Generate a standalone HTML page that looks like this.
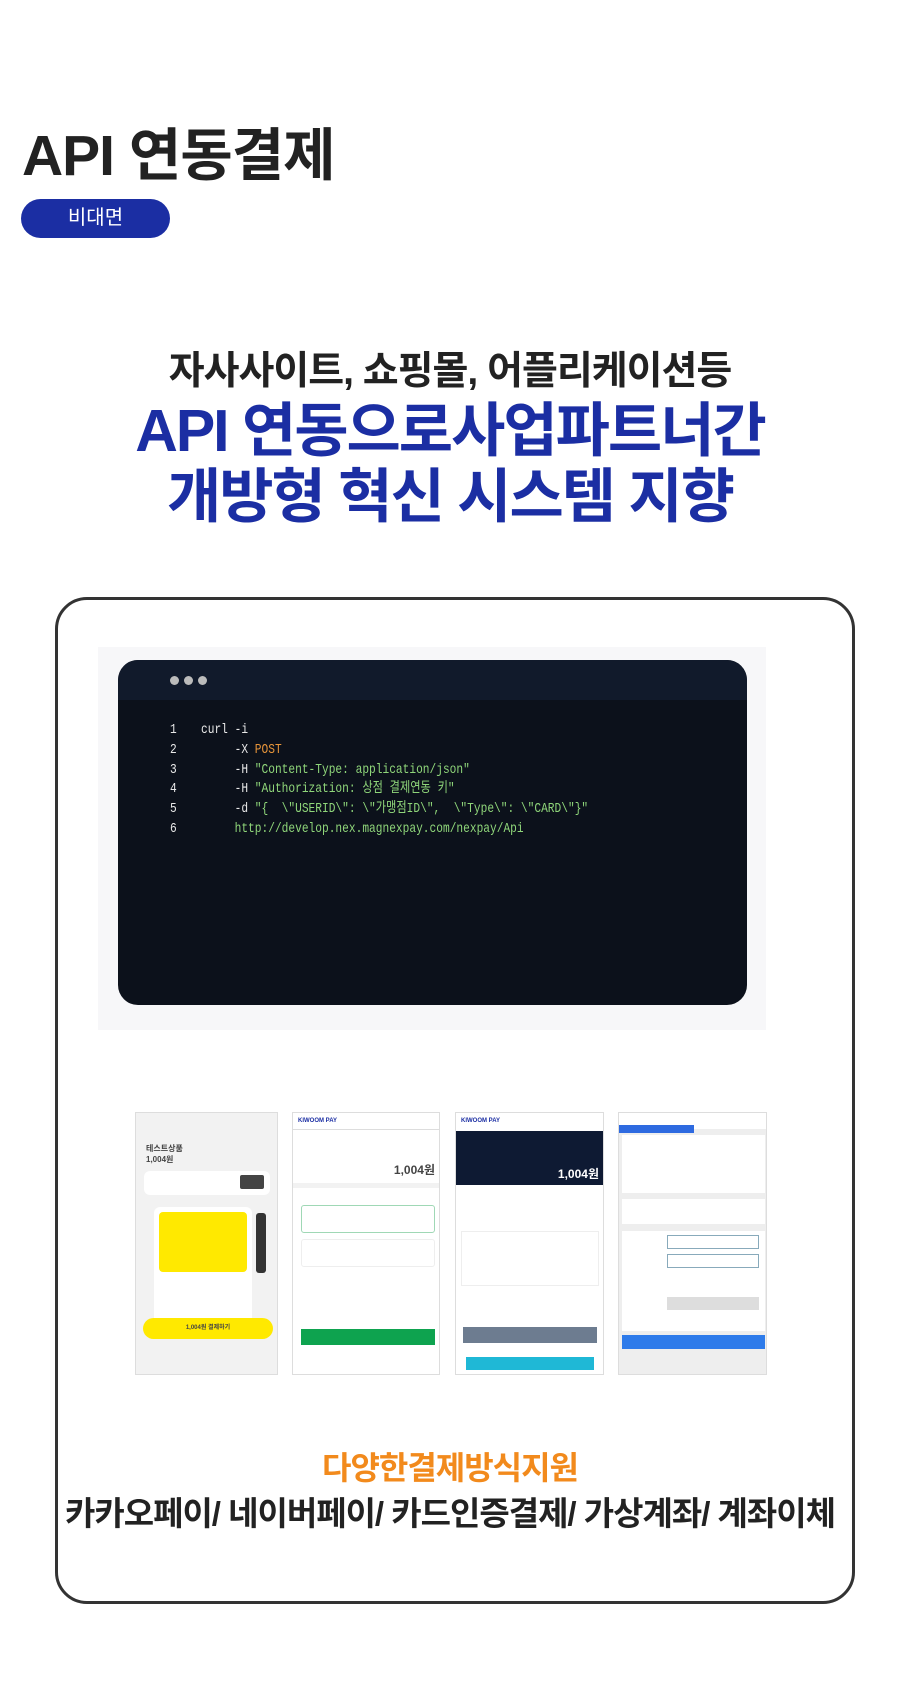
<!DOCTYPE html>
<html><head><meta charset="utf-8"><style>
*{margin:0;padding:0;box-sizing:border-box}
body{width:900px;height:1700px;background:#fff;position:relative;overflow:hidden;font-family:"Liberation Sans","Noto Sans CJK KR",sans-serif}
.a{position:absolute}
.c{left:0;width:900px;text-align:center}
.code{font-family:"Liberation Mono","Noto Sans CJK KR",monospace;font-size:14px;white-space:pre;color:#e8e8e8;transform:scaleX(0.8);transform-origin:0 0}
.g{color:#8fd67a}.o{color:#e8953a}
.ph{position:absolute;background:#fff;border:1px solid #ddd;overflow:hidden;font-size:6px;color:#444}
.ph .a{font-size:6px}
</style></head><body>
<div class="a" style="left:22px;top:110px;font-size:57px;font-weight:700;color:#222;letter-spacing:-1px">API 연동결제</div>
<div class="a" style="left:21px;top:199px;width:149px;height:39px;border-radius:20px;background:#1b2ea3;color:#fff;font-size:20px;text-align:center;line-height:39px">비대면</div>

<div class="a c" style="top:340px;font-size:39px;font-weight:700;color:#222;letter-spacing:-1px">자사사이트, 쇼핑몰, 어플리케이션등</div>
<div class="a c" style="top:398px;font-size:59px;font-weight:700;color:#1b2ea3;letter-spacing:-2px;line-height:66px">API 연동으로사업파트너간<br>개방형 혁신 시스템 지향</div>

<div class="a" style="left:55px;top:597px;width:800px;height:1007px;border:3px solid #333;border-radius:32px"></div>

<div class="a" style="left:98px;top:647px;width:668px;height:383px;background:#f7f7f9"></div>
<div class="a" style="left:118px;top:660px;width:629px;height:345px;background:#0c111b;border-radius:20px;overflow:hidden">
 <div style="height:40px;background:#111a2b"></div>
</div>
<div class="a" style="left:170px;top:676px;width:9px;height:9px;border-radius:50%;background:#bbb"></div>
<div class="a" style="left:184px;top:676px;width:9px;height:9px;border-radius:50%;background:#bbb"></div>
<div class="a" style="left:198px;top:676px;width:9px;height:9px;border-radius:50%;background:#bbb"></div>
<div class="a code" style="left:170px;top:721px;line-height:19.8px">1
2
3
4
5
6</div>
<div class="a code" style="left:201px;top:721px;line-height:19.8px">curl -i
     -X <span class="o">POST</span>
     -H <span class="g">"Content-Type: application/json"</span>
     -H <span class="g">"Authorization: 상점 결제연동 키"</span>
     -d <span class="g">"{  \"USERID\": \"가맹점ID\",  \"Type\": \"CARD\"}"</span>
     <span class="g">http://develop.nex.magnexpay.com/nexpay/Api</span></div>

<!-- phones -->
<div class="ph" style="left:135px;top:1112px;width:143px;height:263px;background:#f2f2f2">
 <div class="a" style="left:10px;top:30px;font-size:8px;font-weight:700">테스트상품<br>1,004원</div>
 <div class="a" style="left:8px;top:58px;width:126px;height:24px;background:#fff;border-radius:6px"></div>
 <div class="a" style="left:104px;top:62px;width:24px;height:14px;background:#444;border-radius:2px"></div>
 <div class="a" style="left:18px;top:94px;width:98px;height:120px;background:#fff;border-radius:6px"></div>
 <div class="a" style="left:23px;top:99px;width:88px;height:60px;background:#ffe900;border-radius:4px"></div>
 <div class="a" style="left:120px;top:100px;width:10px;height:60px;background:#333;border-radius:3px"></div>
 <div class="a" style="left:7px;top:205px;width:130px;height:21px;background:#ffe900;border-radius:11px;text-align:center;line-height:21px;font-weight:700">1,004원 결제하기</div>
</div>
<div class="ph" style="left:292px;top:1112px;width:148px;height:263px">
 <div class="a" style="left:0;top:16px;width:148px;height:1px;background:#ddd"></div>
 <div class="a" style="left:5px;top:5px;color:#1b2ea3;font-weight:700">KIWOOM PAY</div>
 <div class="a" style="left:6px;top:48px;width:136px;font-size:12px;text-align:right;font-weight:700">1,004원</div>
 <div class="a" style="left:0;top:70px;width:148px;height:5px;background:#f2f2f2"></div>
 <div class="a" style="left:8px;top:92px;width:134px;height:28px;border:1px solid #9fd8b5;border-radius:3px"></div>
 <div class="a" style="left:8px;top:126px;width:134px;height:28px;border:1px solid #eee;border-radius:3px"></div>
 <div class="a" style="left:8px;top:216px;width:134px;height:16px;background:#0ea34f"></div>
</div>
<div class="ph" style="left:455px;top:1112px;width:149px;height:263px">
 <div class="a" style="left:0;top:18px;width:149px;height:54px;background:#0e1a33"></div>
 <div class="a" style="left:5px;top:5px;color:#1b2ea3;font-weight:700">KIWOOM PAY</div>
 <div class="a" style="left:0;top:52px;width:143px;font-size:12px;text-align:right;font-weight:700;color:#fff">1,004원</div>
 <div class="a" style="left:5px;top:118px;width:138px;height:55px;border:1px solid #eee"></div>
 <div class="a" style="left:7px;top:214px;width:134px;height:16px;background:#6d7c90"></div>
 <div class="a" style="left:10px;top:244px;width:128px;height:13px;background:#1fb8d6"></div>
</div>
<div class="ph" style="left:618px;top:1112px;width:149px;height:263px;background:#eee">
 <div class="a" style="left:0;top:0;width:149px;height:16px;background:#fff"></div>
 <div class="a" style="left:0;top:12px;width:75px;height:8px;background:#2e6ae0"></div>
 <div class="a" style="left:3px;top:22px;width:143px;height:58px;background:#fff"></div>
 <div class="a" style="left:3px;top:86px;width:143px;height:25px;background:#fff"></div>
 <div class="a" style="left:3px;top:118px;width:143px;height:100px;background:#fff"></div>
 <div class="a" style="left:48px;top:122px;width:92px;height:14px;border:1px solid #8ab"></div>
 <div class="a" style="left:48px;top:141px;width:92px;height:14px;border:1px solid #8ab"></div>
 <div class="a" style="left:48px;top:184px;width:92px;height:13px;background:#ddd"></div>
 <div class="a" style="left:3px;top:222px;width:143px;height:14px;background:#2e7bea"></div>
</div>

<div class="a c" style="top:1443px;font-size:32px;font-weight:700;color:#f28a1c;letter-spacing:-1px">다양한결제방식지원</div>
<div class="a c" style="top:1487px;font-size:33px;font-weight:700;color:#222;letter-spacing:-1px">카카오페이/ 네이버페이/ 카드인증결제/ 가상계좌/ 계좌이체</div>
</body></html>
